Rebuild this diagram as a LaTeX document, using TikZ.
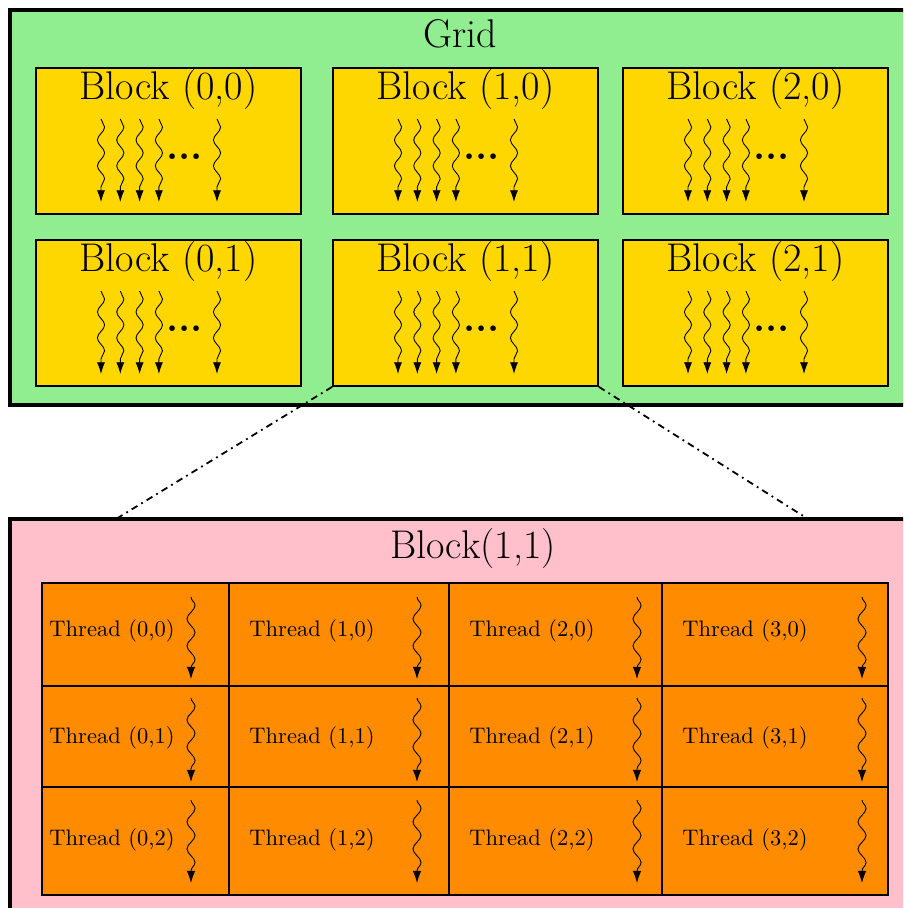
\documentclass[tikz,border=0pt]{standalone}
\usetikzlibrary{arrows.meta,decorations.pathmorphing,fit}
\definecolor{gridgreen}{HTML}{90EE90}
\definecolor{blockgold}{HTML}{FFD700}
\definecolor{threadorange}{HTML}{FF8C00}
\definecolor{panelpink}{HTML}{FFC0CB}
\tikzset{
  panel/.style={draw, ultra thick, inner sep=0pt},
  blockbox/.style={draw, thick, fill=blockgold, inner sep=0pt},
  cellbox/.style={draw, thick, fill=threadorange, inner sep=0pt},
  bigtitle/.style={font=\fontsize{17.8}{21}\selectfont, inner sep=0pt},
  celltext/.style={font=\normalsize, inner sep=0pt},
  dotrow/.style={font=\LARGE\bfseries, inner sep=0pt},
  blockwarp/.style={-{Latex[length=5.2pt,width=3.6pt]}, decorate,
    decoration={snake, amplitude=1.6pt, segment length=11.5pt, post length=4pt}},
  threadwarp/.style={-{Latex[length=5.4pt,width=3.8pt]}, decorate,
    decoration={snake, amplitude=1.8pt, segment length=12pt, post length=4.5pt}},
  zoomline/.style={thick, dash dot}
}
\begin{document}
\begin{tikzpicture}[x=0.4444pt, y=-0.4444pt]
\useasboundingbox (0,0) rectangle (903,908);
\clip (0,0) rectangle (903,908);

% the grid of blocks
\node[panel, fill=gridgreen, fit={(10,10) (910,405)}] (grid) {};
\node[bigtitle, anchor=base] (gridtitle) at (460,48) {Grid};

\foreach \c/\L in {0/36, 1/333, 2/623} {
  \foreach \r/\T in {0/68, 1/240} {
    \node[blockbox, fit={(\L,\T) ({\L+265},{\T+146})}] (blk\c\r) {};
    \node[bigtitle, anchor=base] (blktitle\c\r) at ({\L+132.5},{\T+32}) {Block (\c,\r)};
    \foreach \dx in {65, 84.3, 103.6, 122.9, 181}
      \draw[blockwarp] ({\L+\dx},{\T+51}) -- ({\L+\dx},{\T+134});
    \node[dotrow] (blkdots\c\r) at ({\L+148.5},{\T+89}) {...};
  }
}

% zoom lines from block (1,1) to the detail panel
\coordinate (zoomleft) at (116,519);
\coordinate (zoomright) at (808,519);
\draw[zoomline] (blk11.south west) -- (zoomleft);
\draw[zoomline] (blk11.south east) -- (zoomright);

% detail panel with the threads of one block
\node[panel, fill=panelpink, fit={(10,519) (936,960)}] (detail) {};
\node[bigtitle, anchor=base] (detailtitle) at (473,558) {Block(1,1)};

\foreach \i/\xa/\xb/\tx/\ax in {0/42/229/49/191, 1/229/449/249/417, 2/449/662/469/637, 3/662/888/682/862} {
  \foreach \j/\ya/\yb/\bl/\at/\ab in {0/583/686/636/597/679, 1/686/787/743/698/782, 2/787/895/845/800/883} {
    \node[cellbox, fit={(\xa,\ya) (\xb,\yb)}] (cell\i\j) {};
    \node[celltext, anchor=base west] (celltext\i\j) at (\tx,\bl) {Thread (\i,\j)};
    \draw[threadwarp] (\ax,\at) -- (\ax,\ab);
  }
}
\end{tikzpicture}
\end{document}
